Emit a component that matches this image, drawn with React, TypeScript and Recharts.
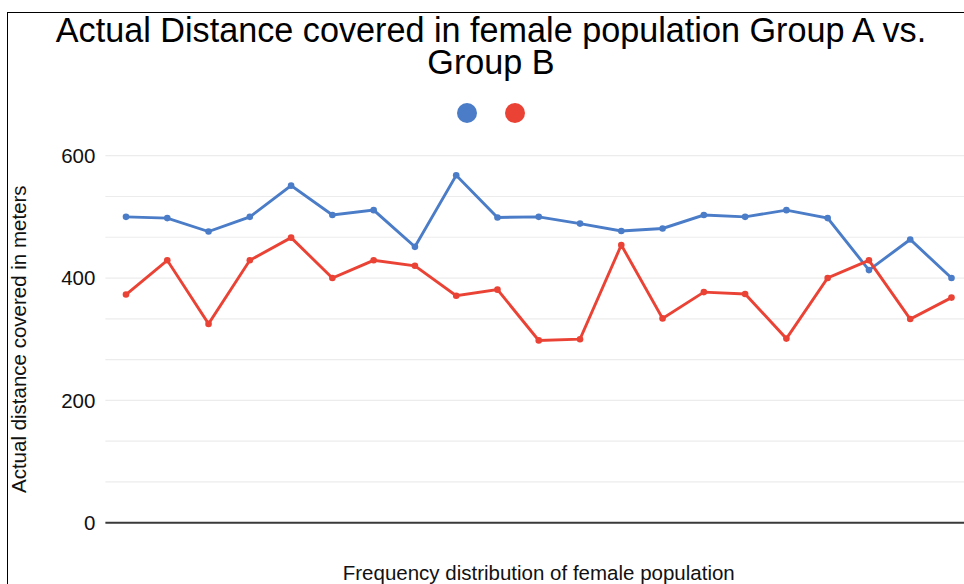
import React from 'react';
import { LineChart, Line, XAxis, YAxis, CartesianGrid, Legend } from 'recharts';

// Sample index along the x axis (labels are not shown on the axis)
const categories = [
  '1', '2', '3', '4', '5', '6', '7', '8', '9', '10', '11',
  '12', '13', '14', '15', '16', '17', '18', '19', '20', '21',
];

// Actual distance covered (meters)
const groupA = [500, 498, 476, 500, 551, 503, 511, 451, 568, 499, 500, 489, 477, 481, 503, 500, 511, 498, 413, 463, 400];
const groupB = [373, 429, 325, 429, 466, 400, 429, 420, 371, 381, 298, 300, 454, 334, 377, 374, 301, 400, 429, 333, 368];

// Gridline positions; only the multiples of 200 carry a label
const yTicks = [0, 66.67, 133.33, 200, 266.67, 333.33, 400, 466.67, 533.33, 600];
const yLabeledTicks = [0, 200, 400, 600];

// Title, split over two lines
const titleLines = ['Actual Distance covered in female population Group A vs.', 'Group B'];

const seriesList = [
  { key: 'groupA', name: 'Group A', color: '#4a7cc7' },
  { key: 'groupB', name: 'Group B', color: '#ea4335' },
];

const data = categories.map((c, i) => ({ category: c, groupA: groupA[i], groupB: groupB[i] }));

const FONT = '"Liberation Sans", Arial, Helvetica, sans-serif';
const CHART_W = 966;
const CHART_H = 571;

const DotLegend = (props: any) => {
  const payload = props.payload || [];
  return (
    <div style={{ display: 'flex', justifyContent: 'center', gap: 28 }}>
      {payload.map((p: any) => (
        <span
          key={p.value}
          style={{ display: 'inline-block', width: 20, height: 20, borderRadius: '50%', background: p.color }}
        />
      ))}
    </div>
  );
};

const YTitle = (props: any) => {
  const vb = props.viewBox || { x: 0, y: 0, width: 0, height: 0 };
  const cx = 18.5;
  const cy = vb.y + vb.height / 2;
  return (
    <text
      x={cx}
      y={cy}
      transform={`rotate(-90 ${cx} ${cy})`}
      textAnchor="middle"
      fontFamily={FONT}
      fontSize={20.5}
      fill="#111"
    >
      Actual distance covered in meters
    </text>
  );
};

const XTitle = (props: any) => {
  const vb = props.viewBox || { x: 0, y: 0, width: 0, height: 0 };
  return (
    <text
      x={vb.x + vb.width / 2}
      y={vb.y + 57.3}
      textAnchor="middle"
      fontFamily={FONT}
      fontSize={20.5}
      fill="#111"
    >
      Frequency distribution of female population
    </text>
  );
};

export default function App() {
  return (
    <div
      style={{
        position: 'absolute',
        left: 0,
        top: 0,
        width: 964,
        height: 584,
        overflow: 'hidden',
        background: '#fff',
      }}
    >
      <div
        style={{
          position: 'absolute',
          left: 7,
          top: 12,
          borderLeft: '1px solid #000',
          borderTop: '1px solid #000',
          width: CHART_W,
          height: CHART_H,
        }}
      >
        {titleLines.map((line, i) => (
          <div
            key={line}
            style={{
              position: 'absolute',
              left: 0,
              top: 0.7 + i * 32.4,
              width: CHART_W,
              height: 32.4,
              textAlign: 'center',
              fontFamily: FONT,
              fontSize: 34.2,
              lineHeight: '32.4px',
              whiteSpace: 'nowrap',
              color: '#000',
              zIndex: 2,
            }}
          >
            {line}
          </div>
        ))}
        <LineChart
          width={CHART_W}
          height={CHART_H}
          data={data}
          margin={{ top: 142.7, right: 1.9, bottom: 0, left: 0 }}
        >
          <CartesianGrid vertical={false} stroke="#ececec" strokeWidth={1.2} />
          <XAxis
            dataKey="category"
            tick={false}
            tickLine={false}
            axisLine={{ stroke: '#3a3a3a', strokeWidth: 2 }}
            height={61.3}
            padding={{ left: 20.6, right: 20.6 }}
            label={<XTitle />}
          />
          <YAxis
            type="number"
            domain={[0, 600]}
            ticks={yTicks}
            interval={0}
            width={97.4}
            axisLine={false}
            tickLine={false}
            tickSize={0}
            tickMargin={10}
            tick={{ fill: '#111', fontSize: 20.5, fontFamily: FONT }}
            tickFormatter={(v: number) => (yLabeledTicks.includes(v) ? String(v) : '')}
            label={<YTitle />}
          />
          <Legend
            verticalAlign="middle"
            align="center"
            layout="horizontal"
            content={<DotLegend />}
            wrapperStyle={{ top: 90, left: 0, width: CHART_W }}
          />
          {seriesList.map((s) => (
            <Line
              key={s.key}
              type="linear"
              dataKey={s.key}
              name={s.name}
              stroke={s.color}
              strokeWidth={2.9}
              dot={{ r: 3.3, fill: s.color, stroke: s.color, strokeWidth: 0 }}
              activeDot={false}
              isAnimationActive={false}
            />
          ))}
        </LineChart>
      </div>
    </div>
  );
}
